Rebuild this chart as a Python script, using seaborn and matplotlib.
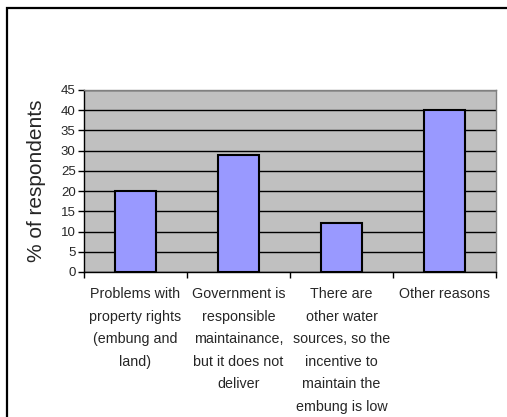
import matplotlib
matplotlib.use("Agg")
import matplotlib.pyplot as plt
import seaborn as sns
import pandas as pd
from matplotlib.patches import Rectangle

# Data
reasons = [
    "Problems with\nproperty rights\n(embung and\nland)",
    "Government is\nresponsible\nmaintainance,\nbut it does not\ndeliver",
    "There are\nother water\nsources, so the\nincentive to\nmaintain the\nembung is low",
    "Other reasons",
]
percent = [20, 29, 12, 40]

df = pd.DataFrame({"reason": reasons, "percent": percent})

sns.set_style("white")
plt.rcParams["font.family"] = ["Liberation Sans", "DejaVu Sans"]

fig = plt.figure(figsize=(5.07, 4.17), dpi=100)
ax = fig.add_axes([84 / 507, 1 - 272 / 417, (496 - 84) / 507, (272 - 90) / 417])
ax.set_facecolor("#C0C0C0")

sns.barplot(data=df, x="reason", y="percent", color="#9999FF", saturation=1,
            width=0.39, edgecolor="black", linewidth=1.5, ax=ax, zorder=3)

ax.set_ylim(0, 45)
ax.set_xlim(-0.5, 3.5)
ax.set_yticks(range(0, 46, 5))
ax.yaxis.grid(True, color="black", linewidth=1, zorder=1)
ax.set_axisbelow(True)

# category boundaries as ticks, labels in between
ax.set_xticks([-0.5, 0.5, 1.5, 2.5, 3.5])
ax.set_xticklabels([])
ax.set_xticks(range(len(reasons)), minor=True)
ax.set_xticklabels(reasons, minor=True, fontsize=10.3, linespacing=1.77, va="top")
ax.tick_params(axis="x", which="minor", length=0, pad=11)
ax.tick_params(axis="x", which="major", direction="out", length=4, width=1, color="black")
ax.tick_params(axis="y", direction="out", length=4, width=1, color="black", labelsize=9.5, pad=2)
ax.tick_params(left=True, bottom=True)

ax.set_xlabel("")
ax.set_ylabel("% of respondents", fontsize=15, labelpad=11)

for side in ["left", "bottom"]:
    ax.spines[side].set_color("black")
    ax.spines[side].set_linewidth(1)
for side in ["top", "right"]:
    ax.spines[side].set_visible(True)
    ax.spines[side].set_color("#808080")
    ax.spines[side].set_linewidth(1)

# outer chart frame, cut off at right and bottom
fig.patches.append(Rectangle((7 / 507, -0.2), 1.2, 1.2 - 8 / 417,
                             transform=fig.transFigure, fill=False,
                             edgecolor="black", linewidth=1.6))

fig.savefig("out.png", dpi=100)
